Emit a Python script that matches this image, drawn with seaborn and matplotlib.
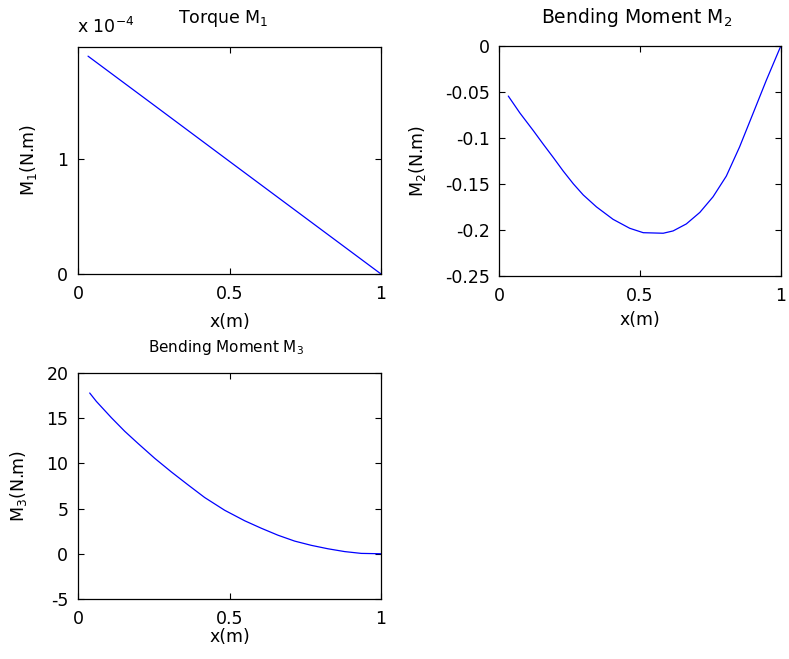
import matplotlib
matplotlib.use("Agg")
import matplotlib.pyplot as plt
import seaborn as sns
import pandas as pd

# ---- data ----
x_m1 = [0.033, 0.25, 0.5, 0.75, 1.0]
m1 = [1.90e-4, 1.474e-4, 0.982e-4, 0.491e-4, 0.0]

x_m2 = [0.032, 0.073, 0.121, 0.156, 0.192, 0.227, 0.263, 0.298, 0.345, 0.404,
        0.463, 0.511, 0.582, 0.617, 0.664, 0.712, 0.759, 0.806, 0.853, 0.901,
        0.948, 1.0]
m2 = [-0.0547, -0.0730, -0.0923, -0.1069, -0.1215, -0.1361, -0.1500, -0.1620,
      -0.1750, -0.1885, -0.1982, -0.2030, -0.2036, -0.2011, -0.1935, -0.1810,
      -0.1640, -0.1416, -0.1100, -0.0735, -0.0376, 0.0]

x_m3 = [0.0385, 0.0605, 0.110, 0.154, 0.198, 0.253, 0.308, 0.363, 0.418, 0.484,
        0.550, 0.605, 0.660, 0.715, 0.770, 0.825, 0.880, 0.935, 1.0]
m3 = [17.78, 16.85, 15.05, 13.55, 12.20, 10.56, 9.05, 7.62, 6.22, 4.81,
      3.65, 2.82, 2.05, 1.40, 0.93, 0.55, 0.24, 0.04, 0.0]

xticks = [0, 0.5, 1]
xtick_labels = ["0", "0.5", "1"]
m1_ticks = [0, 1e-4]
m1_tick_labels = ["0", "1"]
m2_ticks = [0, -0.05, -0.1, -0.15, -0.2, -0.25]
m2_tick_labels = ["0", "-0.05", "-0.1", "-0.15", "-0.2", "-0.25"]
m3_ticks = [-5, 0, 5, 10, 15, 20]
m3_tick_labels = ["-5", "0", "5", "10", "15", "20"]

sns.set_style("ticks")
plt.rcParams["font.family"] = ["DejaVu Sans"]
plt.rcParams["mathtext.fontset"] = "dejavusans"
plt.rcParams["mathtext.default"] = "regular"
plt.rcParams["text.color"] = "black"
plt.rcParams["axes.labelcolor"] = "black"
plt.rcParams["xtick.color"] = "black"
plt.rcParams["ytick.color"] = "black"

fig = plt.figure(figsize=(7.89, 6.59), dpi=100)
fig.patch.set_facecolor("white")

ax1 = fig.add_axes([0.0989, 0.5842, 0.384, 0.3445])
ax2 = fig.add_axes([0.6328, 0.5812, 0.357, 0.3495])
ax3 = fig.add_axes([0.0989, 0.0911, 0.384, 0.343])

TICK_FS = 12.5
LABEL_FS = 12.5
LINE_KW = dict(color="#0000ff", linewidth=0.9)


def style(ax):
    ax.set_xlim(0, 1)
    ax.set_xticks(xticks)
    ax.set_xticklabels(xtick_labels)
    ax.tick_params(direction="in", top=True, right=True, length=4, width=0.8,
                   labelsize=TICK_FS, colors="black", labelcolor="black")
    ax.tick_params(axis="x", pad=8)
    ax.tick_params(axis="y", pad=7)
    for s in ax.spines.values():
        s.set_visible(True)
        s.set_linewidth(0.9)
        s.set_color("black")
    ax.set_facecolor("white")
    ax.grid(False)


def labels(ax, ylab, xlab_y, ylab_x):
    ax.set_xlabel("x(m)", fontsize=LABEL_FS, color="black")
    ax.set_ylabel(ylab, fontsize=LABEL_FS, color="black")
    ax.xaxis.set_label_coords(0.5, xlab_y)
    ax.xaxis.label.set_va("center")
    ax.yaxis.set_label_coords(ylab_x, 0.5)
    ax.yaxis.label.set_va("center")


def title(ax, text, x, y, fs):
    ax.text(x, y, text, transform=ax.transAxes, ha="center", va="baseline",
            fontsize=fs, color="black")


df1 = pd.DataFrame({"x": x_m1, "y": m1})
sns.lineplot(data=df1, x="x", y="y", ax=ax1, **LINE_KW)
style(ax1)
ax1.set_ylim(0, 1.98e-4)
ax1.set_yticks(m1_ticks)
ax1.set_yticklabels(m1_tick_labels)
labels(ax1, "M$_1$(N.m)", -0.211, -0.162)
title(ax1, "Torque M$_1$", 0.479, 1.106, 12.5)
ax1.text(-0.003, 1.062, "x 10$^{-4}$", transform=ax1.transAxes, fontsize=TICK_FS,
         ha="left", va="baseline", color="black")

df2 = pd.DataFrame({"x": x_m2, "y": m2})
sns.lineplot(data=df2, x="x", y="y", ax=ax2, **LINE_KW)
style(ax2)
ax2.set_ylim(-0.25, 0)
ax2.set_yticks(m2_ticks)
ax2.set_yticklabels(m2_tick_labels)
labels(ax2, "M$_2$(N.m)", -0.191, -0.290)
title(ax2, "Bending Moment M$_2$", 0.487, 1.100, 13.5)

df3 = pd.DataFrame({"x": x_m3, "y": m3})
sns.lineplot(data=df3, x="x", y="y", ax=ax3, **LINE_KW)
style(ax3)
ax3.set_ylim(-5, 20)
ax3.set_yticks(m3_ticks)
ax3.set_yticklabels(m3_tick_labels)
labels(ax3, "M$_3$(N.m)", -0.167, -0.195)
title(ax3, "Bending Moment M$_3$", 0.49, 1.092, 11)

fig.savefig("out.png", dpi=100, facecolor="white")
